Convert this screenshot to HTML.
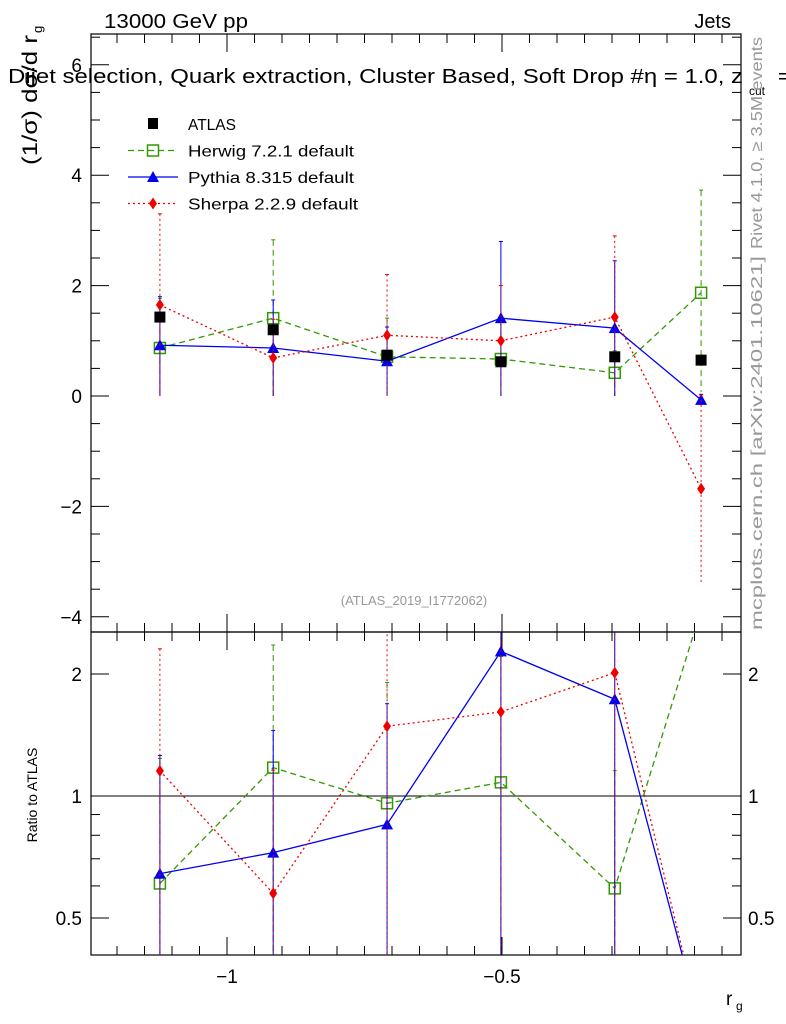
<!DOCTYPE html>
<html><head><meta charset="utf-8"><style>
body{margin:0;background:#fff;width:786px;height:1024px;overflow:hidden}
svg{font-family:"Liberation Sans",sans-serif;overflow:hidden;display:block}
</style></head><body>
<svg id="c" width="786" height="1024"></svg>
<script>
const binX=[-1.122,-0.916,-0.709,-0.502,-0.295,-0.138];
const atlas=[1.43,1.2,0.74,0.62,0.71,0.65];
const herwig=[0.87,1.41,0.71,0.67,0.42,1.87];
const herwigUp=[0.9,1.42,0.7,0.7,0.4,1.86];
const herwigDn=[0.87,1.41,0.71,0.67,0.42,1.8];
const pythia=[0.92,0.87,0.63,1.41,1.23,-0.07];
const pythiaUp=[0.88,0.87,0.62,1.39,1.22,0.1];
const pythiaDn=[0.92,0.87,0.63,1.41,1.23,0.1];
const sherpa=[1.65,0.69,1.1,1.0,1.43,-1.68];
const sherpaUp=[1.65,0.7,1.1,1.0,1.47,1.7];
const sherpaDn=[1.65,0.69,1.1,1.0,1.43,1.72];
const mainTicks=[-4,-2,0,2,4,6];
const ratioTicks=[0.5,1,2];
const xTicks=[-1,-0.5];

const NS="http://www.w3.org/2000/svg",svg=document.getElementById('c');
function el(t,a,p){const e=document.createElementNS(NS,t);for(const k in a)e.setAttribute(k,a[k]);(p||svg).appendChild(e);return e;}
const L=91,R=741,T=34,M=632,B=955;
const X=v=>227+(v+1)*550;
const Y=v=>396-v*55.2;
const RY=v=>796-122*Math.log2(v);
const defs=el('defs',{});
const c1=el('clipPath',{id:'cm'},defs);el('rect',{x:L,y:T,width:R-L,height:M-T},c1);
const c2=el('clipPath',{id:'cr'},defs);el('rect',{x:L,y:M,width:R-L,height:B-M},c2);
let f=el('rect',{x:L,y:T,width:R-L,height:M-T,fill:'none',stroke:'#000','stroke-width':1.2});

f=el('rect',{x:L,y:M,width:R-L,height:B-M,fill:'none',stroke:'#000','stroke-width':1.2});

for(let v=-4.5;v<=6.6;v+=0.5){const y=Y(v);if(y<T||y>M)continue;const maj=Math.abs(v/2-Math.round(v/2))<1e-6;const len=maj?18:9;
 el('line',{x1:L,x2:L+len,y1:y,y2:y,stroke:'#000'});el('line',{x1:R,x2:R-len,y1:y,y2:y,stroke:'#000'});}
mainTicks.forEach(v=>{const t=el('text',{x:82,y:Y(v)+7,'text-anchor':'end','font-size':19});t.textContent=(v<0?'\u2212'+(-v):v);
 });
for(let v=-1.2;v<=-0.05;v+=0.05){const x=X(v);if(x<L||x>R)continue;const maj=Math.abs(v*10-Math.round(v*10))<1e-6&&Math.round(v*10)%5==0;const len=maj?18:9;
 [[T,1],[M,-1],[M,1],[B,-1]].forEach(([y,d])=>el('line',{x1:x,x2:x,y1:y,y2:y+d*len,stroke:'#000'}));}
xTicks.forEach(v=>{const t=el('text',{x:X(v),y:983,'text-anchor':'middle','font-size':19});t.textContent='\u2212'+(-v);
 });
[0.5,0.6,0.7,0.8,0.9,1,2].forEach(v=>{const y=RY(v);const maj=ratioTicks.includes(v);const len=maj?18:9;
 el('line',{x1:L,x2:L+len,y1:y,y2:y,stroke:'#000'});el('line',{x1:R,x2:R-len,y1:y,y2:y,stroke:'#000'});});
ratioTicks.forEach(v=>{[[82,'end'],[748,'start']].forEach(([x,a])=>{const t=el('text',{x:x,y:RY(v)+7,'text-anchor':a,'font-size':19});t.textContent=v;
 });});
el('line',{x1:L,x2:R,y1:RY(1),y2:RY(1),stroke:'#000'});
const gm=el('g',{'clip-path':'url(#cm)'}),gr=el('g',{'clip-path':'url(#cr)'});
const series=[
 {n:'herwig',v:herwig,u:herwigUp,d:herwigDn,c:'#339900',dash:'6,4',m:'sq'},
 {n:'pythia',v:pythia,u:pythiaUp,d:pythiaDn,c:'#0000ee',dash:'',m:'tri'},
 {n:'sherpa',v:sherpa,u:sherpaUp,d:sherpaDn,c:'#ee0000',dash:'2,3',m:'dia'}];
function marker(g,m,x,y,c){let e;
 if(m==='sq')e=el('rect',{x:x-5.5,y:y-5.5,width:11,height:11,fill:'none',stroke:c,'stroke-width':1.5},g);
 else if(m==='tri')e=el('polygon',{points:`${x},${y-6} ${x-6},${y+5} ${x+6},${y+5}`,fill:c},g);
 else e=el('polygon',{points:`${x},${y-6} ${x-4},${y} ${x},${y+6} ${x+4},${y}`,fill:c},g);
 return e;}
series.forEach(s=>{
 const ratio=s.v.map((v,i)=>v>0?v/atlas[i]:0.27);
 el('polyline',{points:s.v.map((v,i)=>X(binX[i])+','+Y(v)).join(' '),fill:'none',stroke:s.c,'stroke-width':1.3,'stroke-dasharray':s.dash},gm);
 el('polyline',{points:ratio.map((v,i)=>X(binX[i])+','+RY(v)).join(' '),fill:'none',stroke:s.c,'stroke-width':1.3,'stroke-dasharray':s.dash},gr);
 s.v.forEach((v,i)=>{const x=X(binX[i]);
  el('line',{x1:x,x2:x,y1:Y(v+s.u[i]),y2:Y(v-s.d[i]),stroke:s.c,'stroke-dasharray':s.dash},gm);
  el('line',{x1:x-2,x2:x+2,y1:Y(v+s.u[i]),y2:Y(v+s.u[i]),stroke:s.c},gm);
  const mk=marker(gm,s.m,x,Y(v),s.c);
  
  if(v>0&&RY(ratio[i])>M){const ru=(v+s.u[i])/atlas[i],rd=(v-s.d[i])/atlas[i];
   el('line',{x1:x,x2:x,y1:RY(ru),y2:rd>0?RY(rd):B,stroke:s.c,'stroke-dasharray':s.dash},gr);
   el('line',{x1:x-2,x2:x+2,y1:RY(ru),y2:RY(ru),stroke:s.c},gr);
   const rm=marker(gr,s.m,x,RY(ratio[i]),s.c);
   }
 });
});
atlas.forEach((v,i)=>{const r=el('rect',{x:X(binX[i])-5.5,y:Y(v)-5.5,width:11,height:11,fill:'#000'},gm);
 });
const lg=el('g',{});
el('rect',{x:148,y:118,width:10,height:11,fill:'#000'},lg);
const labs=[['ATLAS',null],['Herwig 7.2.1 default',series[0]],['Pythia 8.315 default',series[1]],['Sherpa 2.2.9 default',series[2]]];
labs.forEach(([t,s],i)=>{const y=124+i*26.5;
 if(s){el('line',{x1:128,x2:178,y1:y,y2:y,stroke:s.c,'stroke-width':1.3,'stroke-dasharray':s.dash},lg);marker(lg,s.m,153,y,s.c);}
 const tx=el('text',{x:188,y:y+6,'font-size':16,textLength:[48,166,166,170][i],lengthAdjust:'spacingAndGlyphs'},lg);tx.textContent=t;
 });
function txt(x,y,s,str,extra,name){const t=el('text',Object.assign({x:x,y:y,'font-size':s},extra||{}));t.textContent=str;return t;}
txt(104,28,20,'13000 GeV pp',{textLength:144,lengthAdjust:'spacingAndGlyphs'},'energy-label');
txt(731,28,20,'Jets',{'text-anchor':'end'},'process-label');
txt(8,83,20,'Dijet selection, Quark extraction, Cluster Based, Soft Drop #\u03b7 = 1.0, z',{textLength:735,lengthAdjust:'spacingAndGlyphs'},'plot-title');
txt(749,95,12,'cut',{},'title-subscript');
txt(778,83,20,'=',{},'title-eq');
txt(414,605,13,'(ATLAS_2019_I1772062)',{'text-anchor':'middle',fill:'#999'},'analysis-id');
txt(37,100,21,'(1/σ) dσ/d r',{'text-anchor':'middle',transform:'rotate(-90 37 100)',textLength:130,lengthAdjust:'spacingAndGlyphs'},'y-axis-title');
txt(42,33,13,'g',{transform:'rotate(-90 42 33)'},'y-axis-subscript');
txt(37,795,14,'Ratio to ATLAS',{'text-anchor':'middle',transform:'rotate(-90 37 795)'},'ratio-axis-title');
txt(726,1005,19,'r',{},'x-axis-title');txt(736,1010,12,'g',{},'x-axis-subscript');
txt(762,143,16,'Rivet 4.1.0, ≥ 3.5M events',{'text-anchor':'middle',fill:'#999',transform:'rotate(-90 762 143)',textLength:212,lengthAdjust:'spacingAndGlyphs'},'rivet-label');
txt(762,443,16,'mcplots.cern.ch [arXiv:2401.10621]',{'text-anchor':'middle',fill:'#999',transform:'rotate(-90 762 443)',textLength:374,lengthAdjust:'spacingAndGlyphs'},'mcplots-label');
</script>
</body></html>
